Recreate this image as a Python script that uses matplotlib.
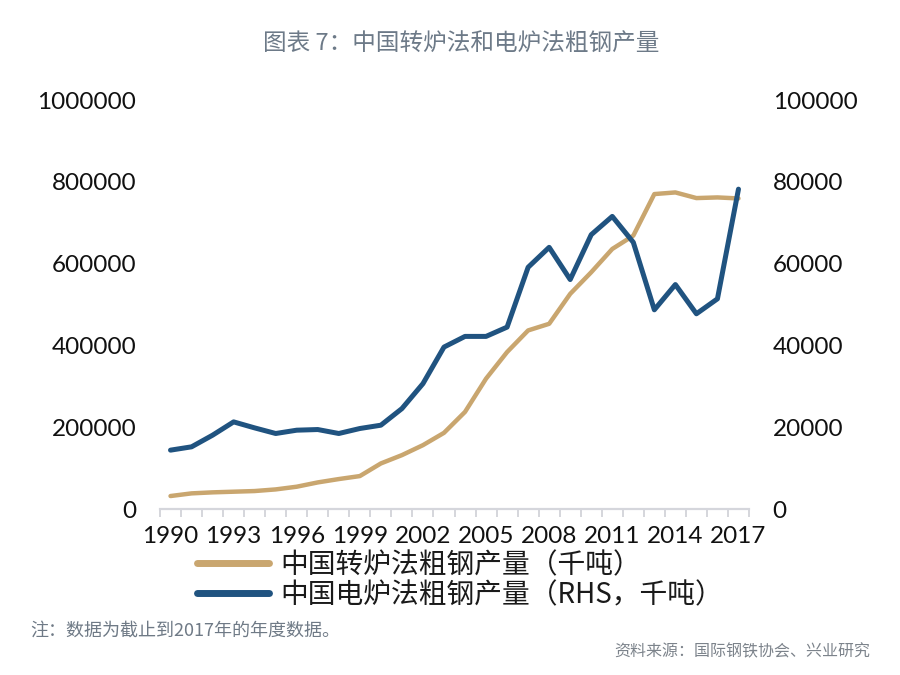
import matplotlib
matplotlib.use("Agg")
import matplotlib.pyplot as plt
import numpy as np

years = list(range(1990, 2018))
bof = [31700, 38200, 40700, 42300, 43900, 47900, 54500, 65000, 73200, 80500,
       111400, 131700, 156100, 186200, 237400, 318700, 383700, 436600, 452800, 526000,
       578900, 635800, 668300, 770000, 774000, 760200, 761800, 759300]
eaf = [14390, 15200, 18050, 21300, 19830, 18460, 19270, 19430, 18460, 19680,
       20490, 24550, 30650, 39590, 42200, 42200, 44470, 59100, 63980, 56100,
       67070, 71540, 65200, 48700, 54880, 47730, 51390, 78200]
left_ticks = [0, 200000, 400000, 600000, 800000, 1000000]
right_ticks = [0, 20000, 40000, 60000, 80000, 100000]

title = "图表 7：中国转炉法和电炉法粗钢产量"
label_bof = "中国转炉法粗钢产量（千吨）"
label_eaf = "中国电炉法粗钢产量（RHS，千吨）"
note = "注：数据为截止到2017年的年度数据。"
source = "资料来源：国际钢铁协会、兴业研究"

cjk = ['Noto Sans CJK SC', 'DejaVu Sans']
numfont = ['Lato', 'DejaVu Sans']

tan = '#c9a66f'
blue = '#205380'
axis_gray = '#d5d6dc'

fig = plt.figure(figsize=(9, 6.75), dpi=100)
ax = fig.add_axes([160/900, 1 - 509/675, (749 - 160)/900, (509 - 100)/675])
ax2 = ax.twinx()

x = np.arange(len(years))
l1, = ax.plot(x, bof, color=tan, lw=3.2, solid_capstyle='round', solid_joinstyle='round', zorder=2)
l2, = ax2.plot(x, eaf, color=blue, lw=3.6, solid_capstyle='round', solid_joinstyle='round', zorder=3)

ax.set_xlim(-0.5, len(years) - 0.5)
ax.set_ylim(0, 1000000)
ax2.set_ylim(0, 100000)
ax.set_yticks(left_ticks)
ax.set_yticklabels([str(v) for v in left_ticks])
ax2.set_yticks(right_ticks)
ax2.set_yticklabels([str(v) for v in right_ticks])

major = [i for i, y in enumerate(years) if (y - 1990) % 3 == 0]
ax.set_xticks(major)
ax.set_xticklabels([str(years[i]) for i in major])
ax.set_xticks(np.arange(-0.5, len(years)), minor=True)

for a in (ax, ax2):
    for s in a.spines.values():
        s.set_visible(False)
ax.spines['bottom'].set_visible(True)
ax.spines['bottom'].set_color(axis_gray)
ax.spines['bottom'].set_linewidth(1.6)

ax.tick_params(axis='x', which='major', length=0, pad=12, labelsize=17.5)
ax.tick_params(axis='x', which='minor', length=6, width=1.4, color=axis_gray, direction='out')
ax.tick_params(axis='y', length=0, pad=17, labelsize=17.5)
ax2.tick_params(axis='y', length=0, pad=17, labelsize=17.5)
for lab in ax.get_xticklabels() + ax.get_yticklabels() + ax2.get_yticklabels():
    lab.set_family(numfont)
    lab.set_color('#111111')

fig.text(0.512, 1 - 44/675, title, ha='center', va='center', fontsize=17,
         color='#6d7a88', family=cjk)

leg = ax.legend([l1, l2], [label_bof, label_eaf], loc='upper left',
                bbox_to_anchor=(197/900, 1 - 550/675), bbox_transform=fig.transFigure,
                frameon=False, prop={'family': cjk, 'size': 20}, handlelength=2.6,
                handletextpad=0.4, labelspacing=0.0, borderpad=0, borderaxespad=0)
for h in leg.get_lines():
    h.set_linewidth(5)
for t in leg.get_texts():
    t.set_color('#1a1a1a')

fig.text(30/900, 1 - 631/675, note, ha='left', va='center', fontsize=13,
         color='#6f7a86', family=cjk)
fig.text(870/900, 1 - 652/675, source, ha='right', va='center', fontsize=11.5,
         color='#7c838b', family=cjk)

fig.savefig('out.png', dpi=100)
